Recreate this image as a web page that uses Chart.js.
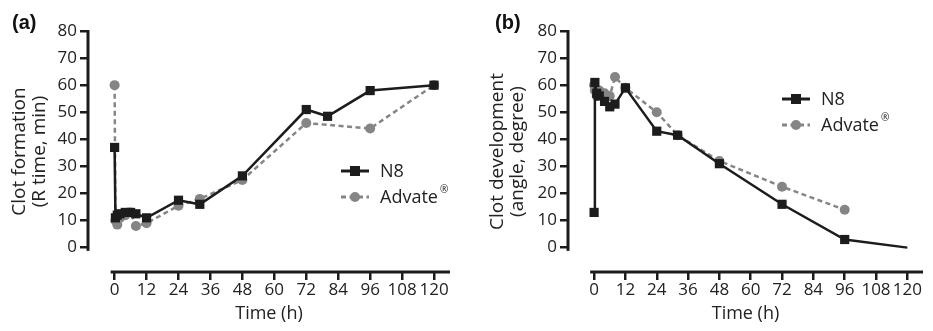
<!DOCTYPE html>
<html>
<head>
<meta charset="utf-8">
<script src="https://cdn.jsdelivr.net/npm/chart.js@4.4.0/dist/chart.umd.min.js"></script>
<style>
  html,body{margin:0;padding:0;background:#fff;}
  #wrap{position:relative;width:933px;height:331px;overflow:hidden;}
  .pane{position:absolute;top:0;height:331px;}
</style>
</head>
<body>
<div id="wrap">
  <div class="pane" style="left:0;width:466px"><canvas id="chartA"></canvas></div>
  <div class="pane" style="left:470px;width:463px"><canvas id="chartB"></canvas></div>
</div>
<script>
// time ticks (h)
const xTicks = [0,12,24,36,48,60,72,84,96,108,120];
const yTicks = [0,10,20,30,40,50,60,70,80];

// (a) clot formation, R time (min)
const n8TimeA       = [0, 0.3, 1, 2, 4, 6, 8, 12, 24, 32, 48, 72, 80, 96, 120];
const n8FormationA  = [37, 11, 12, 12.5, 13, 13, 12.5, 11, 17.5, 16, 26.5, 51, 48.5, 58, 60];
const advTimeA      = [0, 0.3, 1, 2, 4, 6, 8, 12, 24, 32, 48, 72, 96, 120];
const advFormationA = [60, 10, 8.5, 11, 12, 13, 8, 9, 15.5, 18, 25, 46, 44, 60];

// (b) clot development, angle (degree)
const n8TimeB        = [0, 0.3, 1, 2, 4, 6, 8, 12, 24, 32, 48, 72, 96, 120];
const n8DevelopB     = [13, 61, 57, 56, 54, 52, 53, 59, 43, 41.5, 31, 16, 3, 0];
const advTimeB       = [0, 0.3, 1, 2, 4, 6, 8, 12, 24, 32, 48, 72, 96];
const advDevelopB    = [60, 58, 56, 58, 57, 56, 63, 59, 50, 41.5, 32, 22.5, 14];

const seriesNames = ['N8', 'Advate'];
const FONT = '"Open Sans", "DejaVu Sans", sans-serif';
const INK = '#1c1c1c', GREY = '#858585';

function pts(xs, ys){ return xs.map((x,i)=>({x, y: ys[i]})); }

function panelPlugin(label, legendPos){
  return {
    id: 'panel'+label,
    afterDraw(chart){
      const c = chart.ctx, xs = chart.scales.x, ys = chart.scales.y;
      c.save();
      c.strokeStyle = INK; c.lineWidth = 3; c.lineCap = 'butt';
      // y axis line
      c.beginPath();
      c.moveTo(ys.right, ys.getPixelForValue(80) - 1);
      c.lineTo(ys.right, ys.getPixelForValue(-1.2));
      c.stroke();
      // x axis line
      c.beginPath();
      c.moveTo(xs.getPixelForValue(-1.5), xs.top);
      c.lineTo(chart.chartArea.right, xs.top);
      c.stroke();
      // panel letter
      c.fillStyle = '#111';
      c.font = 'bold 20px "Liberation Sans", Arial, sans-serif';
      c.textBaseline = 'middle'; c.textAlign = 'left';
      c.fillText('('+label+')', legendPos.lx, 23);
      // legend
      const rows = chart.data.datasets;
      rows.forEach((ds, i)=>{
        const y = legendPos.y + i*26, x0 = legendPos.x;
        c.strokeStyle = ds.borderColor; c.lineWidth = 3;
        c.setLineDash(ds.borderDash || []);
        c.beginPath(); c.moveTo(x0, y); c.lineTo(x0+28, y); c.stroke();
        c.setLineDash([]);
        c.fillStyle = ds.backgroundColor;
        if(ds.pointStyle === 'rect') c.fillRect(x0+14-5, y-5, 10, 10);
        else { c.beginPath(); c.arc(x0+14, y, 5, 0, Math.PI*2); c.fill(); }
        c.fillStyle = '#222';
        c.font = '18px ' + FONT;
        c.textAlign = 'left';
        c.fillText(seriesNames[i], x0+39, y+1);
        if(i===1){
          const w = c.measureText(seriesNames[i]).width;
          c.font = '10px ' + FONT;
          c.fillText('®', x0+41+w, y-7);
        }
      });
      c.restore();
    }
  };
}

function makeChart(id, n8, adv, title, padLeft, yWidth, padRight, label, legendPos, lastNoMarker){
  return new Chart(document.getElementById(id), {
    type: 'line',
    data: {
      datasets: [
        { label: 'N8', data: n8, borderColor: INK, backgroundColor: INK, borderWidth: 2.5,
          pointStyle: 'rect', pointRadius: (ctx)=> (lastNoMarker && ctx.dataIndex === n8.length-1) ? 0 : 6.5,
          pointBorderWidth: 0, tension: 0, order: 1 },
        { label: 'Advate', data: adv, borderColor: GREY, backgroundColor: GREY, borderWidth: 2.5,
          borderDash: [5,3.5], pointStyle: 'circle', pointRadius: 5, pointBorderWidth: 0, tension: 0, order: 2 }
      ]
    },
    options: {
      responsive: true, maintainAspectRatio: false, animation: false,
      layout: { padding: { top: 31, right: padRight, left: padLeft, bottom: 0 } },
      plugins: { legend: { display: false }, tooltip: { enabled: false } },
      scales: {
        x: {
          type: 'linear', min: -10, max: 126,
          afterBuildTicks: (s)=>{ s.ticks = xTicks.map(v=>({value:v})); },
          afterFit: (s)=>{ s.height = 59; },
          grid: { drawOnChartArea: false, tickLength: 8, color: INK, lineWidth: 2.5 },
          border: { display: false },
          ticks: { color: '#222', font: { family: FONT, size: 17 }, padding: 0, maxRotation: 0 },
          title: { display: true, text: 'Time (h)', color: '#222', font: { family: FONT, size: 18, lineHeight: 1.1 }, padding: { top: 0, bottom: 7 } }
        },
        y: {
          min: -9, max: 80,
          afterBuildTicks: (s)=>{ s.ticks = yTicks.map(v=>({value:v})); },
          afterFit: (s)=>{ s.width = yWidth; },
          grid: { drawOnChartArea: false, tickLength: 8, color: INK, lineWidth: 2.5 },
          border: { display: false },
          ticks: { color: '#222', font: { family: FONT, size: 17 }, padding: 3 },
          title: { display: true, text: title, color: '#222', font: { family: FONT, size: 19, lineHeight: 1.05 }, padding: { top: 0, bottom: 0 } }
        }
      }
    },
    plugins: [panelPlugin(label, legendPos)]
  });
}

makeChart('chartA', pts(n8TimeA, n8FormationA), pts(advTimeA, advFormationA),
  ['Clot formation', '(R time, min)'], 10, 78, 16, 'a', { x: 341, y: 171, lx: 12 }, false);
makeChart('chartB', pts(n8TimeB, n8DevelopB), pts(advTimeB, advDevelopB),
  ['Clot development', '(angle, degree)'], 18, 80, 10, 'b', { x: 312, y: 99, lx: 25 }, true);
</script>
</body>
</html>
